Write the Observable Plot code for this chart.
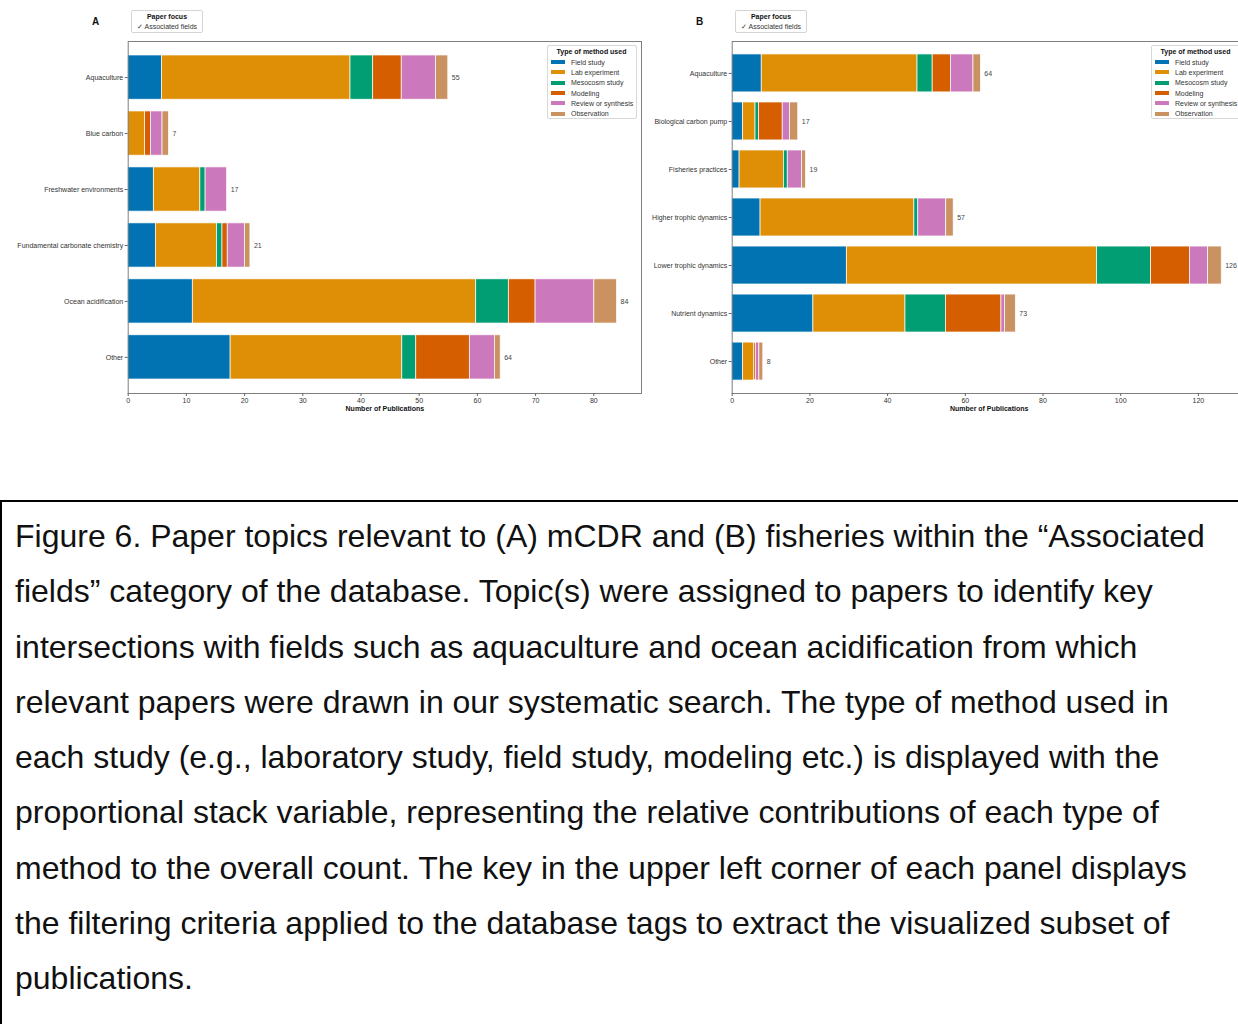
<!DOCTYPE html>
<html>
<head>
<meta charset="utf-8">
<script src="https://cdn.jsdelivr.net/npm/d3@7"></script>
<script src="https://cdn.jsdelivr.net/npm/@observablehq/plot@0.6"></script>
<style>
  html, body { margin: 0; padding: 0; background: #fff; overflow: hidden; }
  body { width: 1238px; height: 1024px; position: relative; font-family: "Liberation Sans", Arial, sans-serif; }
  #fig { position: absolute; left: 0; top: 0; width: 1300px; height: 440px; }
  .panel { position: absolute; top: 0; }
  .letter { position: absolute; font-weight: bold; font-size: 10px; color: #111; }
  .focus { position: absolute; box-sizing: border-box; border: 1px solid #d4d4d4; border-radius: 2px; background: #fff;
           font-size: 7px; color: #333; text-align: center; line-height: 9.5px; padding-top: 1px; }
  .focus b { color: #111; }
  .legend { position: absolute; box-sizing: border-box; border: 1px solid #d8d8d8; border-radius: 2px; background: rgba(255,255,255,0.9);
            font-size: 7px; color: #333; padding: 1px 3px 2px 2px; }
  .legend .title { font-weight: bold; color: #111; text-align: center; line-height: 10px; }
  .legend .item { display: flex; align-items: center; height: 10.3px; white-space: nowrap; }
  .legend .sw { width: 14px; height: 4px; margin: 0 6px 0 1px; flex: none; }
  #caption { position: absolute; left: 0; top: 500px; width: 1300px; height: 600px; box-sizing: border-box;
             border: 2px solid #000; padding: 7px 0 0 13px; font-size: 32px; line-height: 55.25px; color: #111; }
  #caption div { white-space: nowrap; }
</style>
</head>
<body>
<div id="fig"></div>
<div id="caption"></div>
<script>
// Method categories and their colours
const methods = ["Field study", "Lab experiment", "Mesocosm study", "Modeling", "Review or synthesis", "Observation"];
const methodColors = ["#0173b2", "#de8f05", "#029e73", "#d55e00", "#cc78bc", "#ca9161"];

// Panel A: mCDR-related topics (proportional publication counts)
const topicsA = ["Aquaculture", "Blue carbon", "Freshwater environments", "Fundamental carbonate chemistry", "Ocean acidification", "Other"];
const fieldA  = [5.8, 0,   4.4, 4.75, 11.1, 17.6];
const labA    = [32.4, 2.9, 8.0, 10.5, 48.7, 29.5];
const mesoA   = [3.9, 0,   0.9, 0.95, 5.6,  2.4];
const modelA  = [4.9, 1.0, 0,   0.9,  4.6,  9.2];
const reviewA = [5.9, 2.0, 3.7, 2.95, 10.1, 4.3];
const obsA    = [2.1, 1.1, 0,   0.95, 3.9,  1.0];
const ticksA  = [0, 10, 20, 30, 40, 50, 60, 70, 80];

// Panel B: fisheries-related topics
const topicsB = ["Aquaculture", "Biological carbon pump", "Fisheries practices", "Higher trophic dynamics", "Lower trophic dynamics", "Nutrient dynamics", "Other"];
const fieldB  = [7.6, 2.8, 1.9, 7.3, 29.5, 20.9, 2.8];
const labB    = [40.1, 3.2, 11.4, 39.6, 64.4, 23.7, 2.9];
const mesoB   = [3.9, 0.9, 1.0, 1.0, 13.9, 10.4, 0];
const modelB  = [4.7, 6.1, 0,   0,   10.0, 14.3, 0.4];
const reviewB = [5.8, 1.9, 3.7, 7.2, 4.7,  0.9,  0.9];
const obsB    = [1.9, 2.1, 1.0, 1.9, 3.5,  2.8,  1.0];
const ticksB  = [0, 20, 40, 60, 80, 100, 120];

const font = '"Liberation Sans", Arial, sans-serif';

function panel({topics, series, ticks, width, marginLeft, marginRight, paddingOuter}) {
  const rows = [];
  topics.forEach((t, i) => methods.forEach((m, j) => rows.push({topic: t, method: m, n: series[j][i]})));
  const totals = topics.map((t, i) => ({topic: t, total: d3.sum(series, s => s[i])}));
  const xmax = d3.max(totals, d => d.total) * 1.05;
  return Plot.plot({
    width, height: 425,
    marginLeft, marginRight, marginTop: 41, marginBottom: 32,
    style: {fontFamily: font, fontSize: "7px", color: "#333", background: "transparent", overflow: "visible"},
    x: {domain: [0, xmax]},
    y: {domain: topics, paddingInner: 0.21, paddingOuter, round: false},
    color: {domain: methods, range: methodColors},
    marks: [
      Plot.barX(rows, Plot.stackX({y: "topic", x: "n", fill: "method", stroke: "#fff", strokeWidth: 0.7})),
      Plot.text(totals, {x: "total", y: "topic", text: d => String(Math.round(d.total)), dx: 3.5, textAnchor: "start", fill: "#444", fontSize: 7}),
      Plot.frame({stroke: "#7f7f7f", strokeWidth: 1}),
      Plot.axisY({tickSize: 3, tickPadding: 2, label: null, stroke: "#666", fill: "#333"}),
      Plot.axisX({ticks, tickSize: 3, tickPadding: 2, label: null, stroke: "#666", fill: "#333", tickFormat: d3.format("d")}),
      Plot.text(["Number of Publications"], {frameAnchor: "bottom", text: d => d, dy: 17, fontWeight: "bold", fill: "#111", fontSize: 7})
    ]
  });
}

function addBox(html, cls, style) {
  const d = document.createElement("div");
  d.className = cls;
  Object.assign(d.style, style);
  d.innerHTML = html;
  document.getElementById("fig").appendChild(d);
}

function legendHtml() {
  return '<div class="title">Type of method used</div>' +
    methods.map((m, i) => `<div class="item"><span class="sw" style="background:${methodColors[i]}"></span>${m}</div>`).join("");
}

const fig = document.getElementById("fig");

const svgA = panel({topics: topicsA, series: [fieldA, labA, mesoA, modelA, reviewA, obsA], ticks: ticksA,
  width: 650, marginLeft: 127.7, marginRight: 9, paddingOuter: 0.25});
svgA.classList.add("panel"); svgA.style.left = "0px";
fig.appendChild(svgA);

const svgB = panel({topics: topicsB, series: [fieldB, labB, mesoB, modelB, reviewB, obsB], ticks: ticksB,
  width: 620, marginLeft: 91.7, marginRight: 14.3, paddingOuter: 0.27});
svgB.classList.add("panel"); svgB.style.left = "640px";
fig.appendChild(svgB);

// Panel letters, filter keys and method legends
addBox("A", "letter", {left: "92px", top: "16px"});
addBox("B", "letter", {left: "696px", top: "16px"});
addBox("<b>Paper focus</b><br>✓ Associated fields", "focus", {left: "131px", top: "10px", width: "72px", height: "23px"});
addBox("<b>Paper focus</b><br>✓ Associated fields", "focus", {left: "735px", top: "10px", width: "72px", height: "23px"});
addBox(legendHtml(), "legend", {left: "547px", top: "45px", width: "90px", height: "74px"});
addBox(legendHtml(), "legend", {left: "1151px", top: "45px", width: "90px", height: "74px"});

// Figure caption
const captionLines = [
  "Figure 6. Paper topics relevant to (A) mCDR and (B) fisheries within the \u201cAssociated",
  "fields\u201d category of the database. Topic(s) were assigned to papers to identify key",
  "intersections with fields such as aquaculture and ocean acidification from which",
  "relevant papers were drawn in our systematic search. The type of method used in",
  "each study (e.g., laboratory study, field study, modeling etc.) is displayed with the",
  "proportional stack variable, representing the relative contributions of each type of",
  "method to the overall count. The key in the upper left corner of each panel displays",
  "the filtering criteria applied to the database tags to extract the visualized subset of",
  "publications."
];
const cap = document.getElementById("caption");
captionLines.forEach(l => { const d = document.createElement("div"); d.textContent = l; cap.appendChild(d); });
</script>
</body>
</html>
